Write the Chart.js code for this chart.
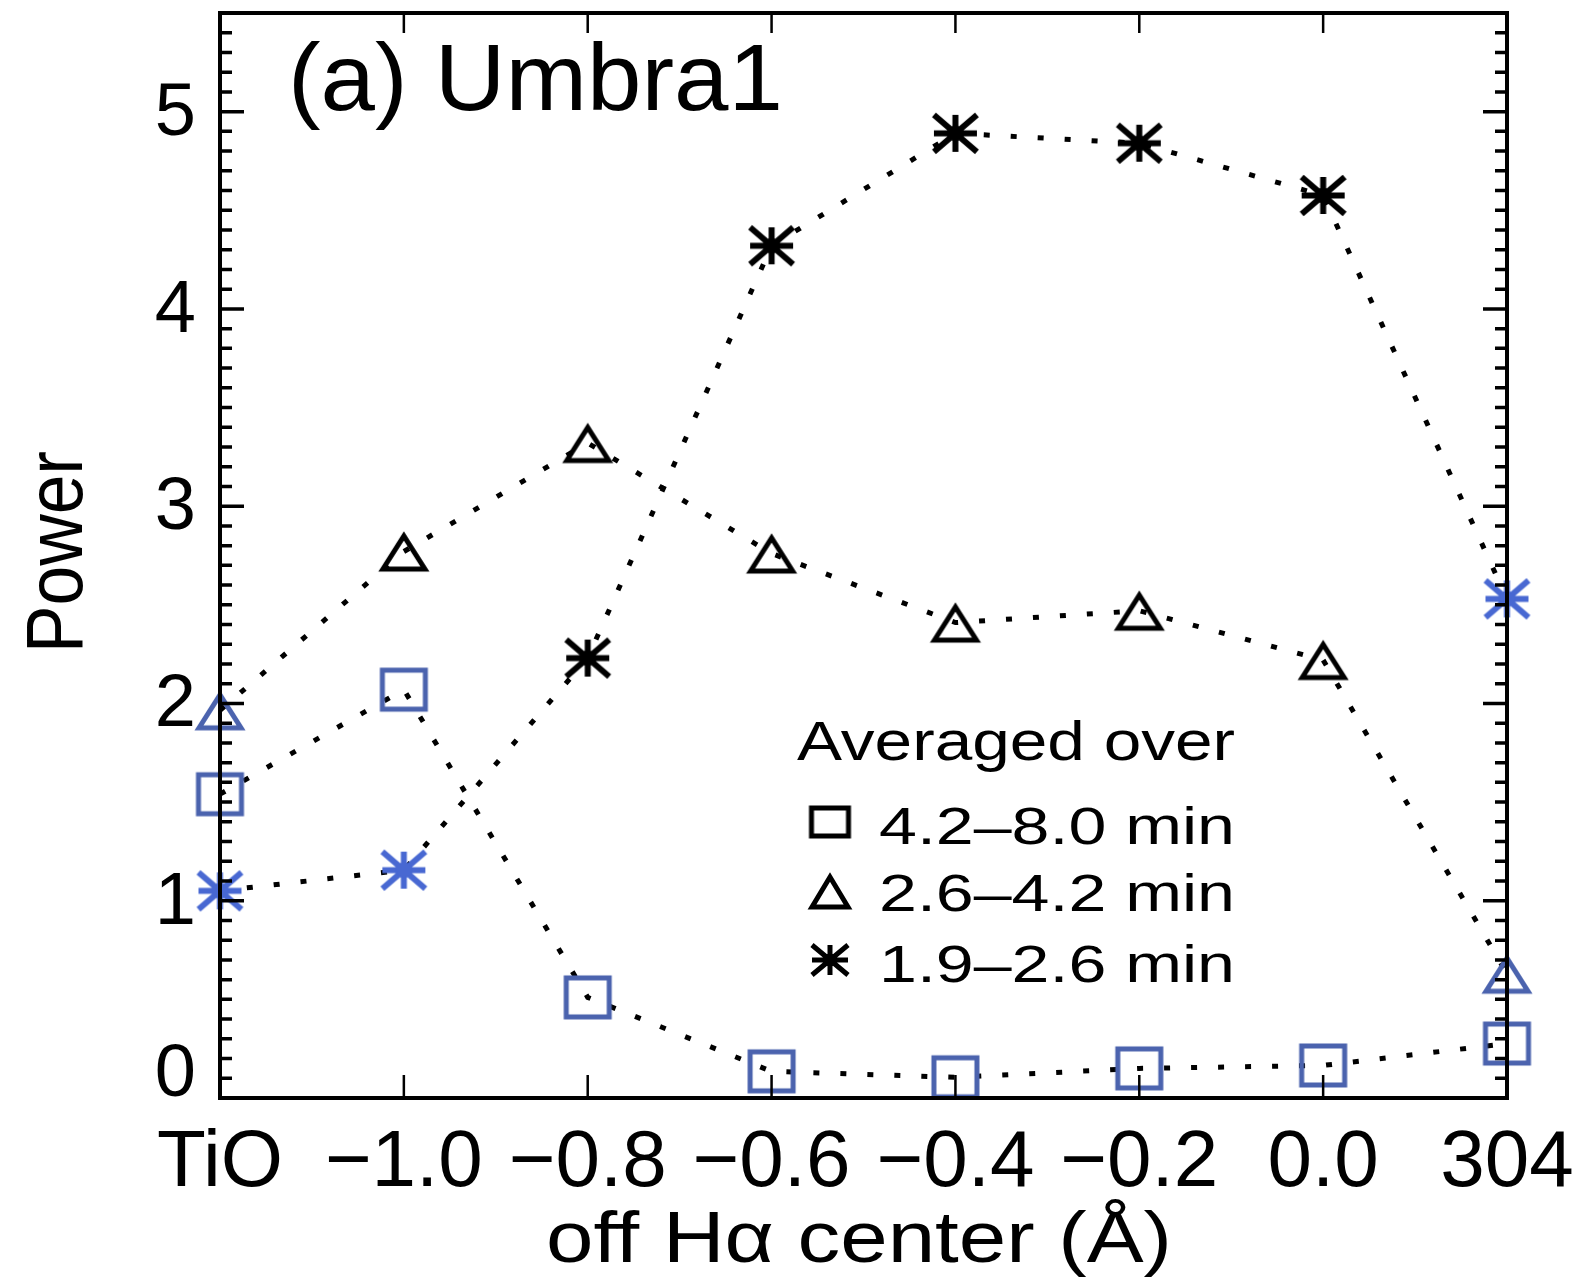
<!DOCTYPE html>
<html>
<head>
<meta charset="utf-8">
<title>(a) Umbra1</title>
<script src="https://cdn.jsdelivr.net/npm/chart.js"></script>
<style>
    html, body { margin: 0; padding: 0; background: #fff; }
    #wrap { width: 1583px; height: 1284px; position: relative; }
</style>
</head>
<body>
<div id="wrap"><canvas id="powerChart"></canvas></div>
<script>
    const categories = ['TiO', '\u22121.0', '\u22120.8', '\u22120.6', '\u22120.4', '\u22120.2', '0.0', '304'];
    const power_42_80 = [1.54, 2.07, 0.51, 0.135, 0.105, 0.15, 0.165, 0.276];
    const power_26_42 = [1.965, 2.77, 3.32, 2.76, 2.41, 2.47, 2.22, 0.63];
    const power_19_26 = [1.05, 1.155, 2.23, 4.32, 4.89, 4.84, 4.575, 2.53];
    // points drawn in blue in the original figure
    const blue_42_80 = [true, true, true, true, true, true, true, true];
    const blue_26_42 = [true, false, false, false, false, false, false, true];
    const blue_19_26 = [true, true, false, false, false, false, false, true];
    const yTicks = [0, 1, 2, 3, 4, 5];
    const seriesNames = ['4.2\u20138.0 min', '2.6\u20134.2 min', '1.9\u20132.6 min'];

    const FONT = '"Liberation Sans", Arial, sans-serif';
    const BLUE = '#4b63ae';
    const STAR_BLUE = '#4868d2';

    // hollow IDL-like symbols as small canvases
    function marker(shape, color, w, h, lw) {
        const pad = lw * 2 + 2;
        const c = document.createElement('canvas');
        c.width = Math.ceil(w + pad * 2);
        c.height = Math.ceil(h + pad * 2);
        const g = c.getContext('2d');
        const cx = c.width / 2, cy = c.height / 2;
        g.strokeStyle = color;
        g.fillStyle = color;
        g.lineWidth = lw;
        g.lineJoin = 'miter';
        g.beginPath();
        if (shape === 'square') {
            g.rect(cx - w / 2, cy - h / 2, w, h);
        } else if (shape === 'triangle') {
            const off = 1; // centre the bounding box, not the centroid
            g.moveTo(cx - w / 2, cy + h / 2 + off);
            g.lineTo(cx, cy - h / 2 + off);
            g.lineTo(cx + w / 2, cy + h / 2 + off);
            g.closePath();
        } else {
            g.moveTo(cx - w / 2, cy); g.lineTo(cx + w / 2, cy);
            g.moveTo(cx, cy - h / 2); g.lineTo(cx, cy + h / 2);
            g.moveTo(cx - w / 2, cy - h / 2); g.lineTo(cx + w / 2, cy + h / 2);
            g.moveTo(cx - w / 2, cy + h / 2); g.lineTo(cx + w / 2, cy - h / 2);
        }
        g.stroke();
        if (shape === 'star') {
            g.beginPath();
            g.arc(cx, cy, lw * 1.3, 0, Math.PI * 2);
            g.fill();
        }
        return c;
    }

    const sqBlue = marker('square', BLUE, 43, 39, 5);
    const sqBlack = marker('square', '#000', 43, 39, 5);
    const triBlue = marker('triangle', BLUE, 42, 33, 5);
    const triBlack = marker('triangle', '#000', 42, 33, 5);
    const starBlue = marker('star', STAR_BLUE, 43, 37, 6);
    const starBlack = marker('star', '#000', 43, 37, 6);

    function text(ctx, str, x, y, size, width, align) {
        ctx.font = size + 'px ' + FONT;
        ctx.textAlign = 'left';
        ctx.textBaseline = 'alphabetic';
        const w = ctx.measureText(str).width;
        const sx = width ? width / w : 1;
        const rw = w * sx;
        const x0 = align === 'center' ? x - rw / 2 : (align === 'right' ? x - rw : x);
        ctx.save();
        ctx.translate(x0, y);
        ctx.scale(sx, 1);
        ctx.fillText(str, 0, 0);
        ctx.restore();
    }

    const framePlugin = {
        id: 'idlFrame',
        afterDraw(chart) {
            const ctx = chart.ctx;
            const a = chart.chartArea;
            const x = chart.scales.x, y = chart.scales.y;
            ctx.save();
            ctx.strokeStyle = '#000';
            ctx.fillStyle = '#000';

            // x ticks, bottom and top
            ctx.lineWidth = 2.5;
            categories.forEach((c, i) => {
                const px = x.getPixelForValue(i);
                ctx.beginPath();
                ctx.moveTo(px, a.bottom); ctx.lineTo(px, a.bottom - 23);
                ctx.moveTo(px, a.top); ctx.lineTo(px, a.top + 20);
                ctx.stroke();
            });

            // y ticks, minor every 0.1, left and right
            ctx.lineWidth = 3.5;
            for (let k = 1; k < 55; k++) {
                const py = y.getPixelForValue(k / 10);
                const len = k % 10 === 0 ? 24 : 12;
                ctx.beginPath();
                ctx.moveTo(a.left, py); ctx.lineTo(a.left + len, py);
                ctx.moveTo(a.right, py); ctx.lineTo(a.right - len, py);
                ctx.stroke();
            }

            ctx.lineWidth = 4;
            ctx.strokeRect(a.left, a.top, a.right - a.left, a.bottom - a.top);

            // tick labels
            categories.forEach((c, i) => {
                text(ctx, c, x.getPixelForValue(i), a.bottom + 88, 80, 0, 'center');
            });
            yTicks.forEach(v => {
                const py = v === 0 ? a.bottom - 2 : y.getPixelForValue(v) + 23;
                text(ctx, String(v), a.left - 24, py, 74, 0, 'right');
            });

            // axis titles
            text(ctx, 'off H\u03b1 center (\u00c5)', 546, 1262, 72, 626, 'left');
            ctx.save();
            ctx.translate(82, 552);
            ctx.rotate(-Math.PI / 2);
            text(ctx, 'Power', 0, 0, 80, 202, 'center');
            ctx.restore();

            // panel label
            text(ctx, '(a) Umbra1', 288, 110, 95, 495, 'left');

            // legend
            text(ctx, 'Averaged over', 797, 760, 56, 438, 'left');
            const legMarks = [
                marker('square', '#000', 37, 28, 5),
                marker('triangle', '#000', 36, 30, 5),
                marker('star', '#000', 36, 30, 5)
            ];
            const rowY = [844, 911, 982];
            const markY = [822, 891, 960];
            ctx.font = '51px ' + FONT;
            const sx = 356 / ctx.measureText(seriesNames[0]).width;
            seriesNames.forEach((name, i) => {
                const m = legMarks[i];
                ctx.drawImage(m, 830 - m.width / 2, markY[i] - m.height / 2);
                const w = ctx.measureText(name).width * sx;
                text(ctx, name, 879, rowY[i], 51, w, 'left');
                ctx.font = '51px ' + FONT;
            });
            ctx.restore();
        }
    };

    function series(values, styles) {
        return {
            data: values,
            borderColor: '#000',
            borderWidth: 5,
            borderDash: [6, 21],
            borderCapStyle: 'butt',
            tension: 0,
            fill: false,
            pointRadius: 24,
            pointStyle: styles,
            clip: false
        };
    }

    new Chart(document.getElementById('powerChart'), {
        type: 'line',
        data: {
            labels: categories,
            datasets: [
                series(power_42_80, blue_42_80.map(b => b ? sqBlue : sqBlack)),
                series(power_26_42, blue_26_42.map(b => b ? triBlue : triBlack)),
                series(power_19_26, blue_19_26.map(b => b ? starBlue : starBlack))
            ]
        },
        options: {
            responsive: true,
            maintainAspectRatio: false,
            devicePixelRatio: 1,
            animation: false,
            events: [],
            layout: { autoPadding: false, padding: { left: 220, right: 76, top: 13, bottom: 186 } },
            plugins: { legend: { display: false }, tooltip: { enabled: false }, title: { display: false } },
            scales: {
                x: { type: 'category', offset: false, display: false },
                y: { type: 'linear', min: 0, max: 5.5, display: false }
            }
        },
        plugins: [framePlugin]
    });
</script>
</body>
</html>
